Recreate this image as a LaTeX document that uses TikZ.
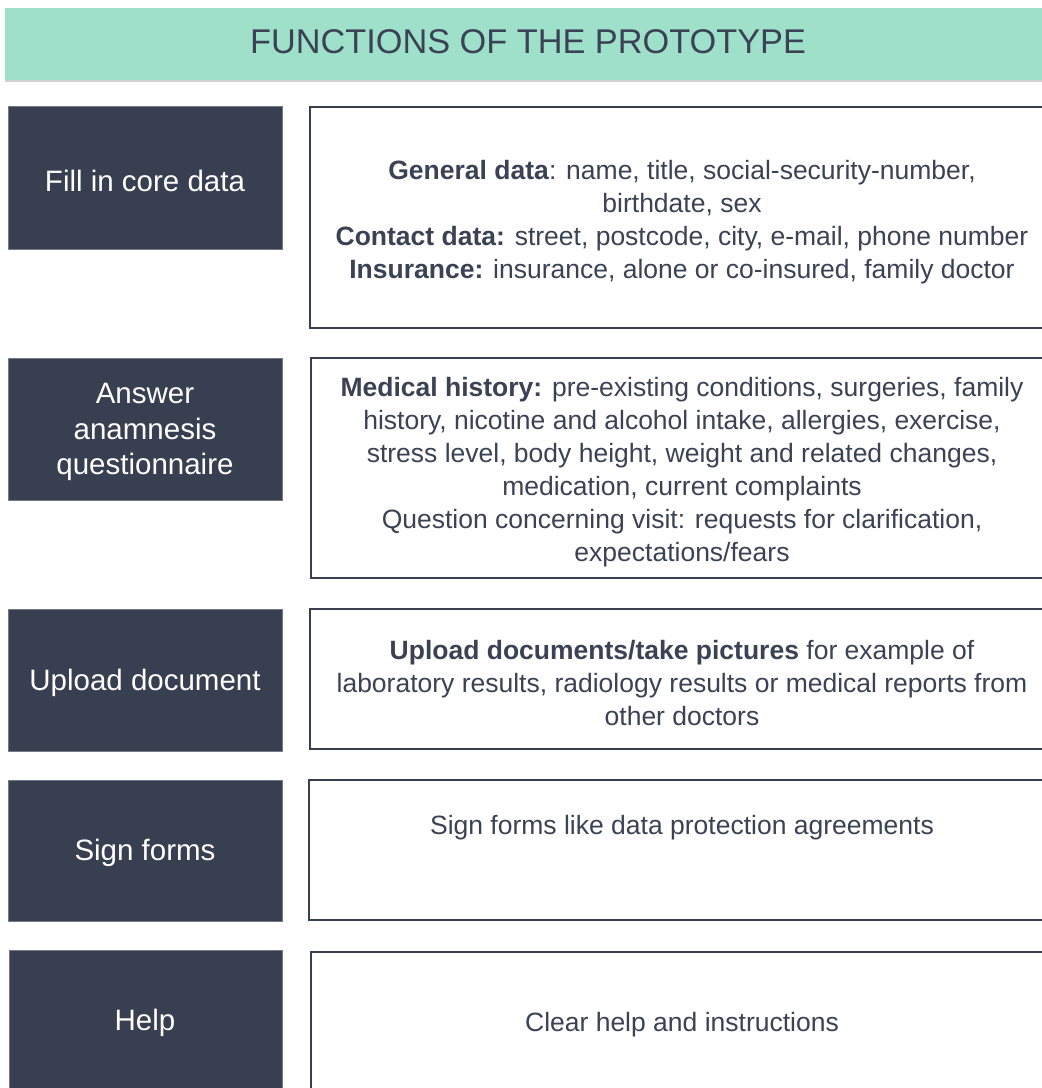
\documentclass[tikz,border=0pt]{standalone}
\usepackage{fontspec}
\setmainfont{Liberation Sans}
\definecolor{headfill}{HTML}{9FE0CB}
\definecolor{slate}{HTML}{373F51}
\definecolor{ink}{HTML}{3A4254}
\begin{document}
\begin{tikzpicture}[x=1pt,y=-1pt,
  funcbox/.style={fill=slate,draw=slate!70!white,line width=0.6pt},
  descbox/.style={draw=slate,line width=1.8pt,fill=white},
  functext/.style={text=white,align=center,yshift=-2pt,font=\fontsize{29.5}{35.5}\selectfont},
  desctext/.style={text=ink,align=center,yshift=-2pt,font=\fontsize{26.5}{33}\selectfont}]
\useasboundingbox (0,0) rectangle (1042,1088);
\clip (0,0) rectangle (1042,1088);
\fill[white] (0,0) rectangle (1042,1088);

% title band
\fill[black!18] (5,10) rectangle (1060,82);
\fill[headfill] (5,8) rectangle (1060,80);
\node[text=ink,font=\fontsize{34.3}{40}\selectfont] (title) at (528,42) {FUNCTIONS OF THE PROTOTYPE};

% function boxes (left column)
\draw[funcbox] (8,106) rectangle (282,249);
\draw[funcbox] (8,358) rectangle (282,500);
\draw[funcbox] (8,609) rectangle (282,751);
\draw[funcbox] (8,780) rectangle (282,921);
\draw[funcbox] (9,950) rectangle (282,1100);

\node[functext] (f1) at (145,179) {Fill in core data};
\node[functext] (f2) at (145,430) {Answer\\anamnesis\\questionnaire};
\node[functext] (f3) at (145,681) {Upload document};
\node[functext] (f4) at (145,851) {Sign forms};
\node[functext] (f5) at (145,1021) {Help};

% description boxes (right column)
\draw[descbox] (310,107) rectangle (1056,328);
\draw[descbox] (311,358) rectangle (1056,578);
\draw[descbox] (310,609) rectangle (1056,749);
\draw[descbox] (309,780) rectangle (1056,920);
\draw[descbox] (311,952) rectangle (1056,1100);

\node[desctext] (d1) at (682,220) {\textbf{General data}: name, title, social-security-number,\\
  birthdate, sex\\
  \textbf{Contact data:} street, postcode, city, e-mail, phone number\\
  \textbf{Insurance:} insurance, alone or co-insured, family doctor};
\node[desctext] (d2) at (682,470) {\textbf{Medical history:} pre-existing conditions, surgeries, family\\
  history, nicotine and alcohol intake, allergies, exercise,\\
  stress level, body height, weight and related changes,\\
  medication, current complaints\\
  Question concerning visit: requests for clarification,\\
  expectations/fears};
\node[desctext] (d3) at (682,681) {\textbf{Upload documents/take pictures} for example of\\
  laboratory results, radiology results or medical reports from\\
  other doctors};
\node[desctext] (d4) at (682,826) {Sign forms like data protection agreements};
\node[desctext] (d5) at (682,1023) {Clear help and instructions};
\end{tikzpicture}
\end{document}
